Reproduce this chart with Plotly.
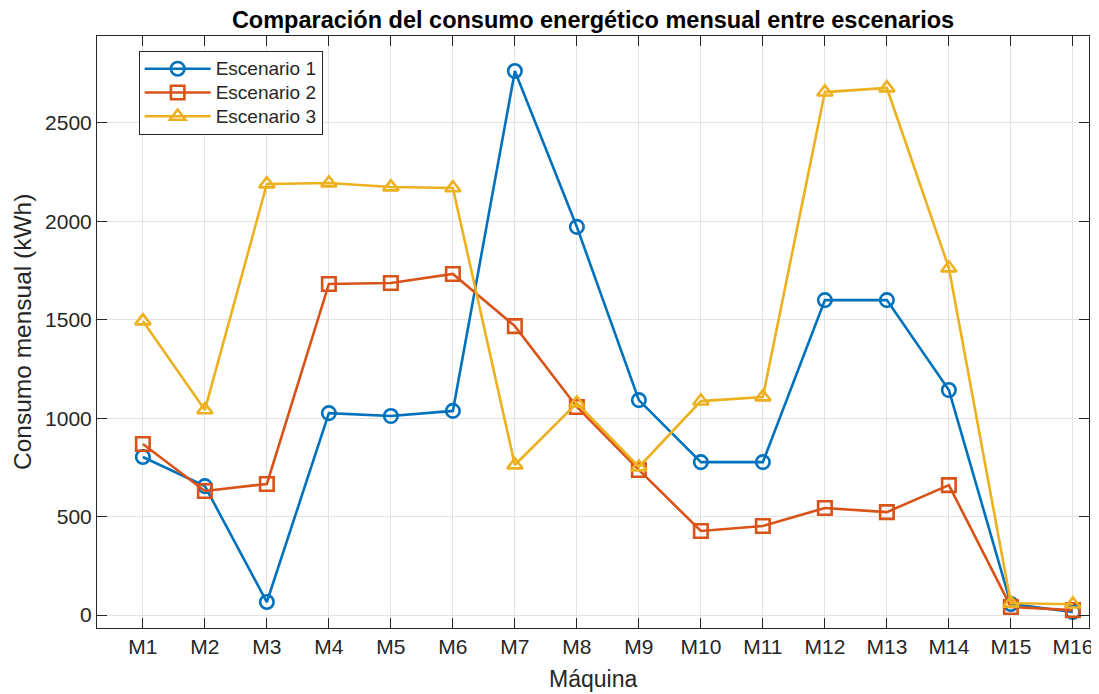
import plotly.graph_objects as go

maquinas = ["M1", "M2", "M3", "M4", "M5", "M6", "M7", "M8", "M9", "M10",
            "M11", "M12", "M13", "M14", "M15", "M16"]
escenario1 = [803, 655, 66, 1026, 1011, 1037, 2764, 1972, 1092, 777,
              777, 1600, 1600, 1143, 56, 15]
escenario2 = [869, 630, 666, 1682, 1687, 1733, 1468, 1057, 737, 427,
              452, 544, 523, 660, 41, 25]
escenario3 = [1494, 1042, 2190, 2195, 2175, 2170, 762, 1077, 752, 1087,
              1108, 2657, 2678, 1763, 60, 55]

series = [
    ("Escenario 1", escenario1, "#0072BD", "circle-open"),
    ("Escenario 2", escenario2, "#D95319", "square-open"),
    ("Escenario 3", escenario3, "#EDB120", "triangle-up-open"),
]

fig = go.Figure()
for name, vals, color, sym in series:
    fig.add_trace(go.Scatter(
        x=list(range(len(maquinas))), y=vals, mode="lines+markers",
        name='<span style="font-size:19px">' + name + "</span>",
        line=dict(color=color, width=2.6),
        marker=dict(symbol=sym, size=13.5, color=color, line=dict(color=color, width=2.6)),
    ))

axis_common = dict(
    showline=True, linecolor="#262626", linewidth=1, mirror="ticks",
    ticks="inside", ticklen=10, tickcolor="#262626", tickwidth=1,
    showgrid=True, gridcolor="#e3e3e3", gridwidth=1, zeroline=False,
    tickfont=dict(size=21, color="#262626"), automargin=False,
)

# The page body has an 8px margin; size the figure so the plot area lands where the reference has it.
W, H = 1091, 686
L, R, T, B = 89, 10, 28, 66
plot_w = W - L - R
plot_h = H - T - B

fig.update_layout(
    width=W, height=H,
    margin=dict(l=L, r=R, t=T, b=B),
    paper_bgcolor="white", plot_bgcolor="white",
    font=dict(family="Liberation Sans, Arial, sans-serif", color="#262626"),
    title=dict(text="<b>Comparación del consumo energético mensual entre escenarios</b>",
               x=0.5, xref="paper", xanchor="center",
               yref="container", y=1 - 11.5 / H, yanchor="middle",
               font=dict(size=23.5, color="#000000")),
    xaxis=dict(**axis_common, tickmode="array", tickvals=list(range(len(maquinas))),
               ticktext=maquinas, range=[-0.74, 15.26]),
    yaxis=dict(**axis_common, range=[-66, 2942], tickvals=[0, 500, 1000, 1500, 2000, 2500]),
    legend=dict(x=0.042, y=0.975, xanchor="left", yanchor="top",
                bordercolor="#262626", borderwidth=1, bgcolor="white",
                font=dict(size=16, color="#262626"), tracegroupgap=0,
                itemwidth=66),
    showlegend=True,
    annotations=[
        dict(text="Máquina", xref="paper", yref="paper",
             x=0.5, y=-(671 - (H - B)) / plot_h, xanchor="center", yanchor="middle",
             showarrow=False, font=dict(size=23, color="#262626")),
        dict(text="Consumo mensual (kWh)", xref="paper", yref="paper",
             x=-(L - 14) / plot_w, y=0.5, xanchor="center", yanchor="middle",
             textangle=-90, showarrow=False, font=dict(size=24.5, color="#262626")),
    ],
)

fig.write_html("out.html")
